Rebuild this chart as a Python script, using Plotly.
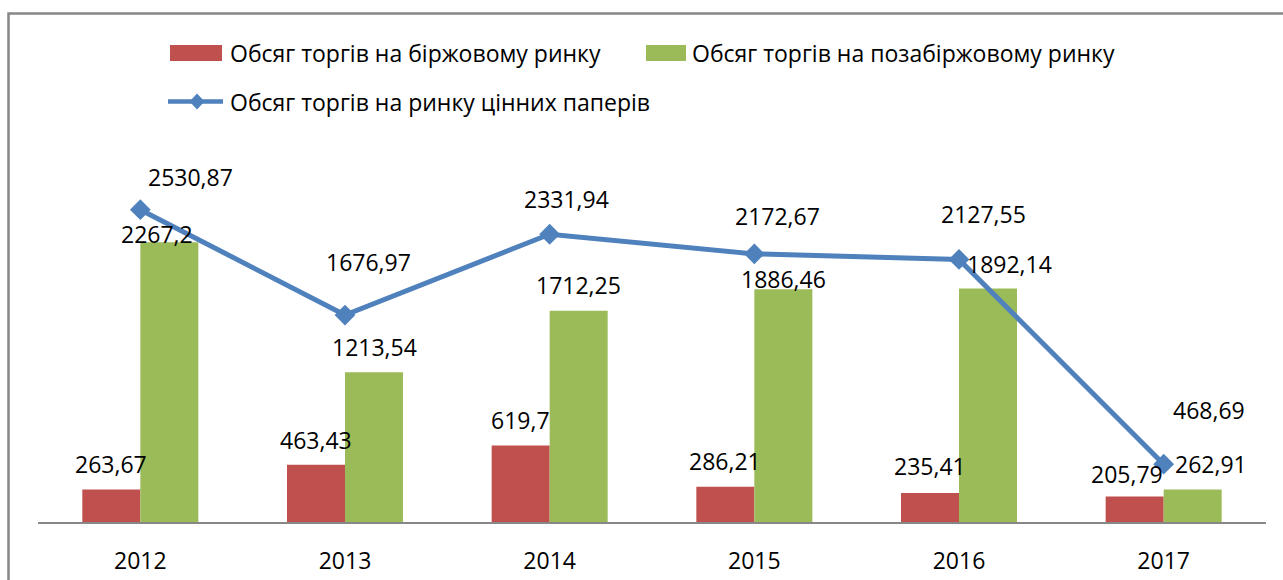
import plotly.graph_objects as go

# ---- data -------------------------------------------------------------
years = ["2012", "2013", "2014", "2015", "2016", "2017"]
exchange = [263.67, 463.43, 619.7, 286.21, 235.41, 205.79]          # біржовий ринок
otc = [2267.2, 1213.54, 1712.25, 1886.46, 1892.14, 262.91]          # позабіржовий ринок
total = [2530.87, 1676.97, 2331.94, 2172.67, 2127.55, 468.69]       # ринок цінних паперів

name_exchange = "Обсяг торгів на біржовому ринку"
name_otc = "Обсяг торгів на позабіржовому ринку"
name_total = "Обсяг торгів на ринку цінних паперів"

# label nudges in pixels (dx, dy), dy measured upward from the mark
exchange_nudge = [(0, 25), (0, 25), (0, 26), (0, 26), (0, 27), (-8, 23)]
otc_nudge = [(-12, 8), (0, 25), (0, 26), (0, 10), (21, 25), (18, 26)]
total_nudge = [(50, 33), (23, 53), (17, 35), (23, 38), (24, 45), (45, 54)]

# ---- styling ----------------------------------------------------------
RED = "#C0504D"
GREEN = "#9BBB59"
BLUE = "#4F81BD"
GREY = "#878787"
FONT = "Open Sans"
FS = 23

W, H = 1283, 580
ML, MR, MT, MB = 38, 17, 10, 58
PW, PH = W - ML - MR, H - MT - MB
YMAX = 4149
BAR_HALF_PX = 29  # half of one bar's width in px

xpos = list(range(len(years)))


def px(x):
    return (x - ML) / PW


def py(y):
    return (H - MB - y) / PH


fig = go.Figure()
fig.add_trace(go.Bar(x=xpos, y=exchange, name=name_exchange,
                     marker=dict(color=RED, line=dict(width=0)), showlegend=False))
fig.add_trace(go.Bar(x=xpos, y=otc, name=name_otc,
                     marker=dict(color=GREEN, line=dict(width=0)), showlegend=False))
fig.add_trace(go.Scatter(x=xpos, y=total, name=name_total, mode="lines+markers",
                         line=dict(color=BLUE, width=5),
                         marker=dict(symbol="diamond", size=16, color=BLUE,
                                     line=dict(width=0)),
                         showlegend=False))

annotations = []


def fmt(v):
    return f"{v:g}".replace(".", ",")


for i in xpos:
    for vals, nudge, base in ((exchange, exchange_nudge, -BAR_HALF_PX),
                              (otc, otc_nudge, BAR_HALF_PX),
                              (total, total_nudge, 0)):
        dx, dy = nudge[i]
        annotations.append(dict(x=i, y=vals[i], xref="x", yref="y", text=fmt(vals[i]),
                                showarrow=False, xshift=base + dx, yshift=dy,
                                xanchor="center", yanchor="middle",
                                font=dict(family=FONT, size=FS, color="black")))

# legend drawn as swatches + text
legend_items = [
    (228, 53, name_exchange),
    (690, 53, name_otc),
    (228, 102, name_total),
]
for x0, yc, txt in legend_items:
    annotations.append(dict(x=px(x0), y=py(yc), xref="paper", yref="paper", text=txt,
                            showarrow=False, xanchor="left", yanchor="middle",
                            font=dict(family=FONT, size=FS, color="black")))

shapes = [
    # chart frame
    dict(type="rect", xref="paper", yref="paper", x0=px(8.5), y0=py(640), x1=px(1340),
         y1=py(13.5), line=dict(color=GREY, width=2.5), fillcolor="rgba(0,0,0,0)",
         layer="below"),
    # legend swatches
    dict(type="rect", xref="paper", yref="paper", x0=px(170), x1=px(222), y0=py(61),
         y1=py(45), fillcolor=RED, line=dict(width=0)),
    dict(type="rect", xref="paper", yref="paper", x0=px(646), x1=px(686), y0=py(61),
         y1=py(45), fillcolor=GREEN, line=dict(width=0)),
    dict(type="line", xref="paper", yref="paper", x0=px(168), x1=px(223), y0=py(101.5),
         y1=py(101.5), line=dict(color=BLUE, width=4.5)),
    dict(type="path", xref="paper", yref="paper", fillcolor=BLUE, line=dict(width=0),
         path=(f"M{px(197)},{py(93.5)} L{px(204.5)},{py(101.5)} "
               f"L{px(197)},{py(109.5)} L{px(189.5)},{py(101.5)} Z")),
]

fig.update_layout(
    width=W, height=H,
    margin=dict(l=ML, r=MR, t=MT, b=MB, pad=0, autoexpand=False),
    paper_bgcolor="white", plot_bgcolor="white",
    barmode="group", bargap=0.4332, bargroupgap=0,
    font=dict(family=FONT, size=FS, color="black"),
    xaxis=dict(range=[-0.5, len(years) - 0.5], tickmode="array", tickvals=xpos,
               ticktext=years, showline=True, linecolor=GREY, linewidth=2,
               showgrid=False, zeroline=False, ticks="", ticklabelstandoff=17,
               automargin=False,
               tickfont=dict(family=FONT, size=FS, color="black")),
    yaxis=dict(range=[0, YMAX], visible=False, showgrid=False, zeroline=False,
               automargin=False),
    annotations=annotations,
    shapes=shapes,
    showlegend=False,
)

fig.write_html("out.html")
